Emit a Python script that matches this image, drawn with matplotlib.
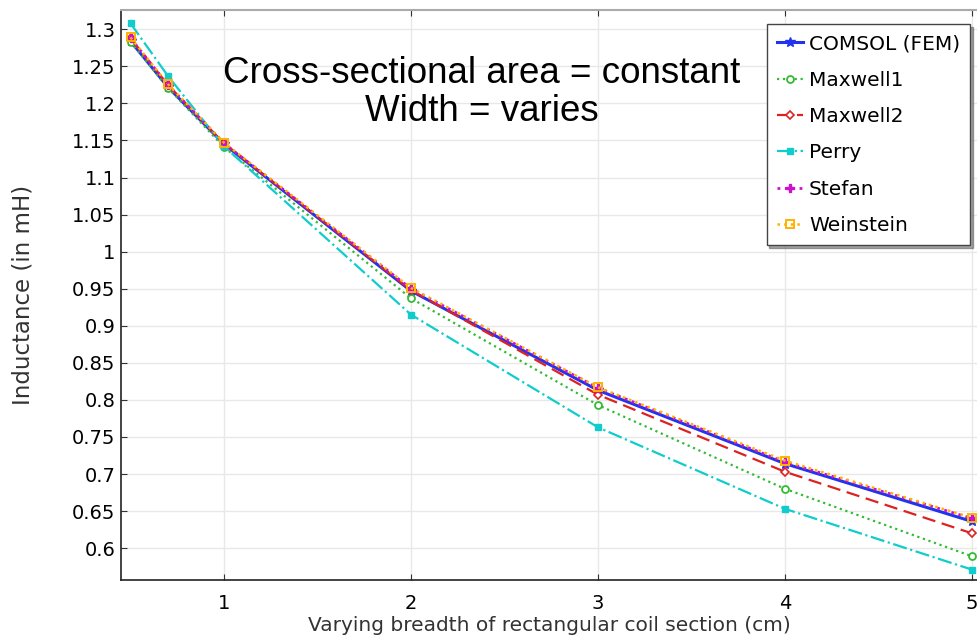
import matplotlib
matplotlib.use("Agg")
import matplotlib.pyplot as plt

# breadth of coil section (cm)
breadth = [0.5, 0.7, 1, 2, 3, 4, 5]

# inductance (mH)
comsol = [1.284, 1.222, 1.145, 0.947, 0.813, 0.714, 0.636]
maxwell1 = [1.283, 1.221, 1.141, 0.937, 0.793, 0.680, 0.589]
maxwell2 = [1.288, 1.225, 1.146, 0.948, 0.807, 0.703, 0.620]
perry = [1.308, 1.237, 1.142, 0.915, 0.763, 0.653, 0.571]
stefan = [1.288, 1.225, 1.146, 0.950, 0.816, 0.716, 0.640]
weinstein = [1.289, 1.226, 1.147, 0.951, 0.817, 0.718, 0.641]

yticks = [0.6, 0.65, 0.7, 0.75, 0.8, 0.85, 0.9, 0.95, 1, 1.05, 1.1, 1.15,
          1.2, 1.25, 1.3]
ytick_labels = ["0.6", "0.65", "0.7", "0.75", "0.8", "0.85", "0.9", "0.95",
                "1", "1.05", "1.1", "1.15", "1.2", "1.25", "1.3"]

plt.rcParams["font.family"] = ["DejaVu Sans"]

fig = plt.figure(figsize=(9.77, 6.43), dpi=100)
ax = fig.add_axes([121 / 977, 63 / 643, 856 / 977, 570 / 643])

ax.plot(breadth, comsol, color="#2233ee", ls="-", lw=2.2, marker="*", ms=7,
        label="COMSOL (FEM)")
ax.plot(breadth, maxwell1, color="#33bb33", ls=":", lw=1.6, marker="o", ms=5,
        mfc="white", mew=1.3, label="Maxwell1")
ax.plot(breadth, maxwell2, color="#dd2222", ls=(0, (6, 3)), lw=1.6, marker="D",
        ms=4, mfc="white", mew=1.2, label="Maxwell2")
ax.plot(breadth, perry, color="#11cccc", ls="-.", lw=1.6, marker="s", ms=5,
        label="Perry")
ax.plot(breadth, stefan, color="#cc11cc", ls=":", lw=2.0, marker="P", ms=6,
        label="Stefan")
ax.plot(breadth, weinstein, color="#ffb300", ls=":", lw=1.8, marker="s", ms=6,
        mfc="none", mew=1.4, label="Weinstein")

ax.set_xlim(0.449, 5.027)
ax.set_ylim(0.557, 1.326)
ax.set_xticks([1, 2, 3, 4, 5])
ax.set_yticks(yticks)
ax.set_yticklabels(ytick_labels)
ax.tick_params(direction="in", labelsize=14, color="#333333", length=4,
               top=True)
ax.tick_params(axis="x", pad=10)
ax.tick_params(axis="y", pad=4)
ax.grid(True, color="#e8e8e8", lw=1)
ax.set_axisbelow(True)

for side in ("left", "bottom"):
    ax.spines[side].set_color("#222222")
    ax.spines[side].set_linewidth(1.2)
ax.spines["top"].set_color("#aaaaaa")
ax.spines["top"].set_linewidth(1.5)
ax.spines["right"].set_visible(False)

ax.set_xlabel("Varying breadth of rectangular coil section (cm)", fontsize=14.5,
              color="#333333", labelpad=2)
ax.set_ylabel("Inductance (in mH)", fontsize=16.5, color="#333333",
              labelpad=27)

ax.text(0.421, 0.855, "Cross-sectional area = constant\nWidth = varies",
        transform=ax.transAxes, ha="center", va="center", fontsize=26.5,
        family="Liberation Sans", linespacing=1.12)

leg = ax.legend(loc="upper right", bbox_to_anchor=(0.992, 0.975),
                fontsize=14.5, frameon=True, fancybox=False, shadow=True,
                handlelength=1.3, handletextpad=0.3, borderpad=0.5,
                labelspacing=0.86, borderaxespad=0)
leg.get_frame().set_edgecolor("#444444")
leg.get_frame().set_linewidth(1.0)

fig.savefig("out.png", dpi=100)
